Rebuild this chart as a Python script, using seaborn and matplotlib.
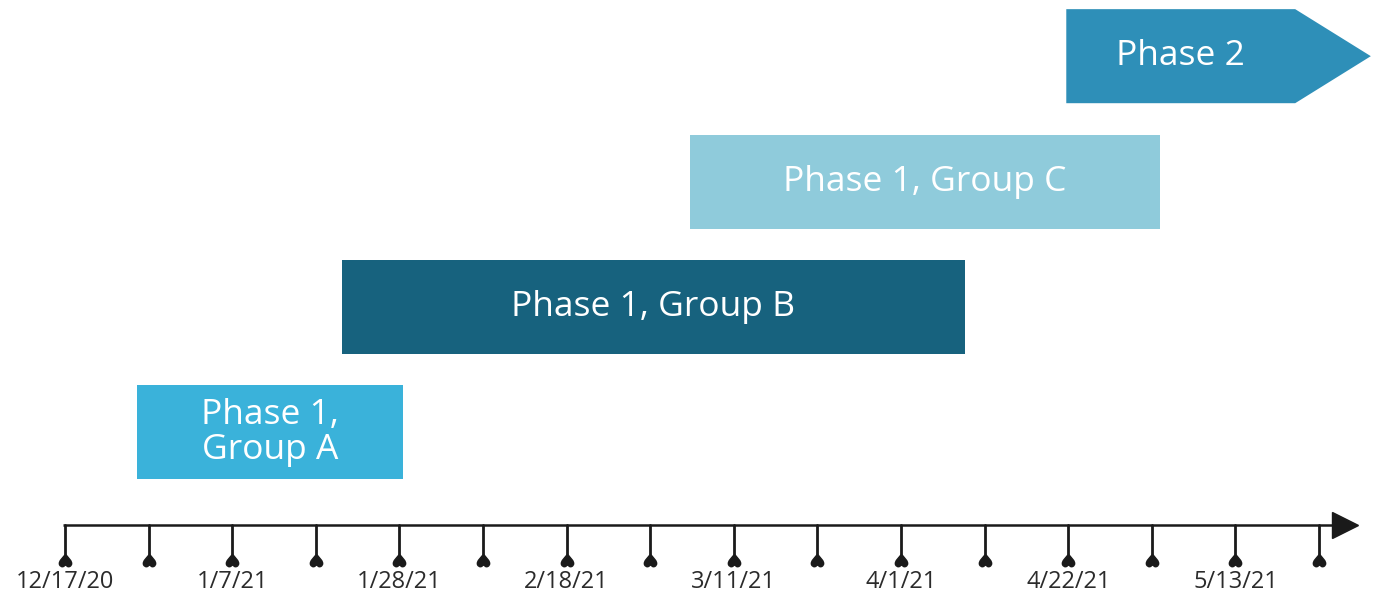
import matplotlib
matplotlib.use("Agg")
import matplotlib.pyplot as plt
import matplotlib.dates as mdates
from matplotlib.markers import MarkerStyle
from matplotlib.transforms import Affine2D
import seaborn as sns
import pandas as pd

# Rollout phases, bottom row first
phases = ["Phase 1,\nGroup A", "Phase 1, Group B", "Phase 1, Group C", "Phase 2"]
starts = ["2020-12-26", "2021-01-20T18:00", "2021-03-05T12:00", "2021-04-21T18:00"]
ends = ["2021-01-28T12:00", "2021-04-09", "2021-05-03T12:00", "2021-05-30"]
colors = ["#3AB2DA", "#17627E", "#8FCBDB", "#2E8FB8"]

# Timeline ticks
tick_dates = ["2020-12-17", "2020-12-27T12:00", "2021-01-07", "2021-01-17T12:00",
              "2021-01-28", "2021-02-07T12:00", "2021-02-18", "2021-02-28T12:00",
              "2021-03-11", "2021-03-21T12:00", "2021-04-01", "2021-04-11T12:00",
              "2021-04-22", "2021-05-02T12:00", "2021-05-13", "2021-05-23T12:00"]
tick_labels = ["12/17/20", "", "1/7/21", "", "1/28/21", "", "2/18/21", "",
               "3/11/21", "", "4/1/21", "", "4/22/21", "", "5/13/21", ""]

sns.set_theme(style="white")
plt.rcParams["font.family"] = ["Open Sans", "DejaVu Sans"]


def to_num(dates):
    return mdates.date2num(pd.to_datetime(dates, format="ISO8601"))


df = pd.DataFrame({"phase": phases, "start": to_num(starts),
                   "end": to_num(ends), "color": colors})
df["row"] = range(len(df))
ticks = to_num(tick_dates)
day0 = ticks[0]

fig = plt.figure(figsize=(13.78, 5.96), dpi=100)
ax = fig.add_axes([0, 0, 1, 1])
ax.set_xlim(day0 - 8.17, day0 + 164.9)
ax.set_ylim(-1.305, 3.448)
ax.axis("off")

bar_h = 0.75
head = 9.5  # arrow head length of the last phase, days
for i, r in df.iterrows():
    last = i == len(df) - 1
    y0, y1 = r["row"] - bar_h / 2, r["row"] + bar_h / 2
    if last:
        body_end = r["end"] - head
        ax.fill([r["start"], body_end, r["end"], body_end, r["start"]],
                [y0, y0, r["row"], y1, y1], color=r["color"], linewidth=0)
    else:
        body_end = r["end"]
        ax.barh(r["row"], body_end - r["start"], left=r["start"], height=bar_h,
                color=r["color"], linewidth=0)
    ax.text((r["start"] + body_end) / 2, r["row"], r["phase"], color="white",
            fontsize=25.5, ha="center", va="center", linespacing=1.05)

# timeline axis with arrow
axis_y = -0.739
ax.plot([day0 - 0.3, day0 + 160.7], [axis_y, axis_y], color="#1a1a1a", lw=1.8,
        solid_capstyle="butt")
ax.plot(day0 + 160.7, axis_y, marker=">", markersize=18.5, color="#1a1a1a")

heart = MarkerStyle("$\u2665$", transform=Affine2D().rotate_deg(180))
for t, lab in zip(ticks, tick_labels):
    ax.plot([t, t], [axis_y, -0.97], color="#1a1a1a", lw=2)
    ax.plot(t, -1.02, marker=heart, markersize=9, color="#1a1a1a")
    if lab:
        ax.text(t, -1.19, lab, fontsize=17, color="#2b2b2b",
                ha="center", va="center")

fig.savefig("out.png", dpi=100)
